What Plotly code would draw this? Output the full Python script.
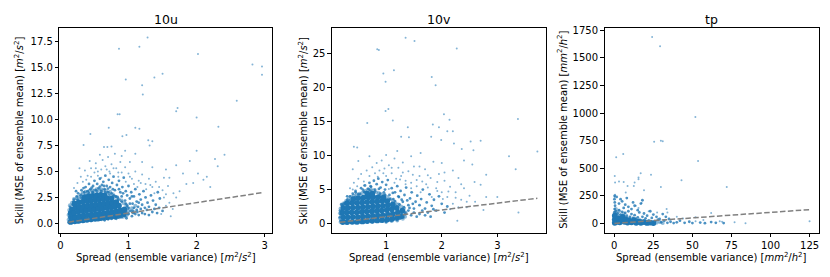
import plotly.graph_objects as go

# ---------------- data ----------------
# each panel: dense core, soft fringe of the core, mid-density halo, sparse points  (spread, skill)
u_core = [(0.15,0.15),(0.16,0.55),(0.15,0.95),(0.17,1.35),
          (0.21,0.2),(0.22,0.62),(0.2,1.05),(0.22,1.5),(0.21,1.9),
          (0.27,0.25),(0.28,0.7),(0.26,1.15),(0.28,1.6),(0.27,2.05),
          (0.33,0.3),(0.34,0.75),(0.32,1.2),(0.34,1.65),(0.33,2.1),(0.35,2.5),
          (0.39,0.35),(0.4,0.8),(0.38,1.25),(0.4,1.7),(0.39,2.15),(0.41,2.6),
          (0.45,0.4),(0.46,0.85),(0.44,1.3),(0.46,1.75),(0.45,2.2),(0.47,2.65),
          (0.51,0.45),(0.52,0.9),(0.5,1.35),(0.52,1.8),(0.51,2.25),(0.53,2.7),
          (0.57,0.5),(0.58,0.95),(0.56,1.4),(0.58,1.85),(0.57,2.3),(0.59,2.75),
          (0.63,0.55),(0.64,1.0),(0.62,1.45),(0.64,1.9),(0.63,2.35),(0.65,2.7),
          (0.69,0.6),(0.7,1.05),(0.68,1.5),(0.7,1.95),(0.69,2.4),
          (0.75,0.65),(0.76,1.1),(0.74,1.55),(0.76,2.0),(0.75,2.4),
          (0.81,0.7),(0.82,1.15),(0.8,1.6),(0.82,2.05),
          (0.87,0.8),(0.88,1.25),(0.86,1.7),
          (0.93,0.9),(0.94,1.35)]
u_fringe = [(0.14,1.75),(0.17,2.0),(0.2,2.35),(0.24,2.45),(0.27,2.55),(0.3,2.75),(0.33,2.95),
            (0.37,3.05),(0.4,3.0),(0.43,3.15),(0.47,3.2),(0.5,3.15),(0.53,3.3),(0.57,3.25),
            (0.6,3.3),(0.63,3.2),(0.67,3.15),(0.7,2.95),(0.73,3.05),(0.77,2.8),(0.8,2.6),
            (0.83,2.55),(0.86,2.3),(0.9,2.2),(0.93,1.95),(0.97,1.75),(0.99,1.45),(1.0,1.2),
            (0.99,0.95),(0.97,0.75),(1.05,1.45),(1.08,1.1),(1.1,1.7),(0.92,0.65),(0.87,0.6),
            (0.12,0.35),(0.12,0.8),(0.13,1.3)]
u_mid = [(0.18,1.8),(0.2,2.3),(0.24,2.6),(0.26,2.9),(0.3,2.7),(0.31,3.2),(0.35,3.0),(0.37,3.5),
         (0.4,3.1),(0.42,3.8),(0.44,3.3),(0.47,3.0),(0.48,3.6),(0.5,4.1),(0.52,3.2),(0.54,3.8),
         (0.56,3.4),(0.58,4.3),(0.6,3.1),(0.61,3.7),(0.63,4.0),(0.65,3.3),(0.66,4.6),(0.68,3.6),
         (0.7,3.0),(0.71,4.2),(0.73,3.5),(0.75,2.9),(0.76,3.9),(0.78,4.5),(0.8,3.2),(0.81,2.6),
         (0.83,3.7),(0.85,2.3),(0.86,4.1),(0.88,3.0),(0.9,2.6),(0.91,3.5),(0.93,4.4),(0.95,2.2),
         (0.96,3.1),(0.98,2.7),(1.0,3.6),(1.02,2.4),(1.04,3.0),(1.06,1.9),(1.08,2.6),(1.1,3.3),
         (1.12,2.1),(1.14,1.6),(1.16,2.8),(1.18,2.3),(1.2,1.8),(1.22,3.1),(1.25,2.5),(1.28,2.0),
         (1.3,1.6),(1.33,2.7),(1.36,2.2),(1.4,1.8),(1.43,3.0),(1.46,2.4),
         (0.9,0.6),(0.95,0.7),(0.98,1.7),(1.0,0.9),(1.03,1.2),(1.05,0.7),(1.08,1.5),(1.1,0.9),
         (1.13,1.1),(1.15,0.8),(1.18,1.4),(1.2,1.0),(1.24,0.9),(1.27,1.3),(1.3,0.8),(1.35,1.1),
         (1.38,1.4),(1.42,1.0),(1.45,1.5),(1.5,1.2),(0.7,0.4),(0.75,0.45),(0.8,0.5),(0.85,0.55),
         (0.6,0.35),(0.55,0.3),(0.45,0.25),(0.35,0.2),(0.25,0.1),(0.12,0.1),(0.13,0.6),(0.13,1.1),
         (0.3,2.45),(0.36,2.75),(0.42,2.9),(0.48,2.95),(0.54,3.05),(0.6,2.95),(0.66,3.0),(0.72,2.75),
         (0.78,2.7),(0.84,2.5),(0.9,2.1),(0.96,1.9),(1.0,1.5),(1.02,1.9),(1.06,1.2),(0.96,1.1),
         (0.25,2.3),(0.19,2.1),(0.14,1.6),(0.23,3.1),(0.34,3.4),(0.46,3.45),(0.58,3.55),(0.64,3.6),
         (0.7,3.35),(0.77,3.3),(0.86,3.3),(0.92,2.9),(1.05,2.6),(1.15,2.0),(1.24,1.5),(1.12,1.3),
         (0.97,0.5),(1.07,1.0),(0.82,0.45),(0.65,0.3)]
u_sparse = [(0.2,3.4),(0.25,3.9),(0.3,4.5),(0.33,4.0),(0.36,5.1),(0.4,4.6),(0.45,5.3),(0.5,4.9),
            (0.52,5.8),(0.55,4.6),(0.6,5.2),(0.62,6.1),(0.66,5.5),(0.7,6.4),(0.72,5.0),(0.75,5.7),
            (0.8,6.7),(0.82,5.3),(0.85,4.9),(0.88,5.9),(0.9,6.5),(0.95,5.4),(1.0,4.8),(1.02,5.9),
            (1.05,4.3),(1.1,5.0),(1.15,4.1),(1.2,4.7),(1.25,3.8),(1.3,4.3),(1.35,3.5),(1.4,4.0),
            (1.5,3.2),(1.55,2.8),(1.6,2.0),(1.48,0.9),(1.55,1.7),(1.35,5.4),(1.2,5.9),(1.1,6.7),
            (0.95,7.0),(0.75,7.4),(0.58,6.6),(0.43,6.0),(0.28,5.3),
            (1.55,5.2),(1.6,4.4),(1.7,5.6),(1.8,4.8),(1.85,3.8),(1.75,3.1),(1.9,6.0),(2.1,4.2),
            (2.2,3.5),(1.65,1.4),(1.7,2.5),(1.62,0.7),
            (0.55,5.0),(0.6,4.4),(0.68,5.2),(0.73,4.8),(0.78,5.3),(0.85,4.5),(0.9,4.9),(0.96,4.0),
            (1.02,4.5),(1.08,3.8),(1.13,3.5),(1.18,3.9),(1.26,3.3),(1.32,3.7),(1.38,2.9),(1.45,3.5),
            (1.52,2.5),(1.58,3.6),(1.66,2.9),(1.52,4.4),(0.45,4.5),(0.38,4.2),(0.52,5.3),
            (1.28,17.9),(1.16,17.0),(0.86,16.8),(2.02,16.3),(2.82,15.3),(2.96,15.1),(2.96,14.3),
            (0.96,13.85),(1.5,14.4),(1.38,14.05),(1.2,13.3),(1.21,12.4),(1.72,11.1),(1.7,10.8),
            (2.59,11.8),(2.0,10.2),(0.84,10.5),(0.87,10.5),(0.71,9.2),(1.1,9.2),(1.16,9.1),
            (2.32,9.3),(0.91,8.4),(0.97,8.5),(0.44,8.6),(0.34,7.55),(0.64,7.35),(0.69,7.35),
            (1.29,8.0),(1.35,7.9),(1.31,7.5),(2.0,7.0),(2.41,6.6),(2.27,6.2),(2.31,5.5),
            (2.02,4.8),(1.95,3.9),(2.15,4.5)]

# 10v
v_core = [(0.22,0.2),(0.23,0.9),(0.21,1.6),(0.23,2.3),
          (0.3,0.2),(0.31,0.9),(0.29,1.6),(0.31,2.3),(0.3,3.0),
          (0.39,0.25),(0.4,0.95),(0.38,1.65),(0.4,2.35),(0.39,3.05),(0.41,3.6),
          (0.48,0.25),(0.49,0.95),(0.47,1.65),(0.49,2.35),(0.48,3.05),(0.5,3.75),
          (0.57,0.3),(0.58,1.0),(0.56,1.7),(0.58,2.4),(0.57,3.1),(0.59,3.8),
          (0.66,0.35),(0.67,1.05),(0.65,1.75),(0.67,2.45),(0.66,3.15),(0.68,3.85),(0.66,4.4),
          (0.75,0.4),(0.76,1.1),(0.74,1.8),(0.76,2.5),(0.75,3.2),(0.77,3.9),(0.75,4.4),
          (0.84,0.45),(0.85,1.15),(0.83,1.85),(0.85,2.55),(0.84,3.25),(0.86,3.9),
          (0.93,0.5),(0.94,1.2),(0.92,1.9),(0.94,2.6),(0.93,3.3),(0.95,3.8),
          (1.02,0.6),(1.03,1.3),(1.01,2.0),(1.03,2.7),(1.02,3.3),
          (1.11,0.7),(1.12,1.4),(1.1,2.1),(1.12,2.8),
          (1.2,0.9),(1.21,1.6),(1.19,2.3),
          (1.28,1.1),(1.29,1.9)]
v_fringe = [(0.2,2.8),(0.24,3.0),(0.28,3.3),(0.33,3.6),(0.37,3.9),(0.42,4.1),(0.47,4.3),(0.52,4.4),
            (0.57,4.5),(0.62,4.8),(0.67,5.0),(0.72,5.0),(0.77,4.9),(0.82,4.6),(0.87,4.5),(0.92,4.3),
            (0.97,4.2),(1.02,3.9),(1.07,3.6),(1.12,3.4),(1.17,3.0),(1.22,2.8),(1.27,2.5),(1.32,2.2),
            (1.35,1.6),(1.34,1.0),(1.3,0.7),(1.2,0.45),(1.1,0.35),(1.0,0.25),(0.18,0.2),(0.17,0.8),
            (0.17,1.5),(0.18,2.2)]
v_mid = [(0.25,3.0),(0.3,3.5),(0.35,4.0),(0.4,4.4),(0.45,4.8),(0.5,4.3),(0.55,5.2),(0.6,4.7),
         (0.62,5.6),(0.68,5.1),(0.7,6.0),(0.73,5.4),(0.78,6.3),(0.8,5.0),(0.83,5.8),(0.86,6.6),
         (0.9,5.3),(0.93,6.1),(0.96,4.6),(1.0,5.7),(1.03,6.4),(1.06,4.2),(1.1,5.2),(1.13,3.6),
         (1.16,4.6),(1.2,5.5),(1.23,3.9),(1.26,4.8),(1.3,3.2),(1.33,4.2),(1.36,5.3),(1.4,2.7),
         (1.43,3.7),(1.46,4.6),(1.5,2.2),(1.53,3.2),(1.56,4.1),(1.6,2.7),(1.63,3.6),(1.66,5.0),
         (1.7,2.2),(1.73,3.1),(1.78,4.3),(1.82,2.6),(1.86,3.5),(1.9,1.9),(1.95,4.0),(2.0,2.9),
         (1.35,1.4),(1.4,1.9),(1.45,1.2),(1.5,1.6),(1.55,1.0),(1.6,1.4),(1.65,1.9),(1.7,1.2),
         (1.3,0.9),(1.25,0.7),(1.2,0.5),(1.1,0.4),(1.75,1.6),(1.8,1.0),(1.85,2.1),(2.05,1.6),
         (2.1,2.5),(0.2,2.8),(0.18,1.3),(0.18,0.4),(0.28,0.05),(0.45,0.05),(0.6,0.1),(0.75,0.2),
         (0.9,0.3),(1.0,0.2),
         (0.26,2.9),(0.34,3.4),(0.44,3.9),(0.53,4.3),(0.62,4.6),(0.71,4.85),(0.8,4.7),(0.89,4.4),
         (0.98,4.2),(1.07,3.6),(1.16,3.3),(1.24,2.8),(1.32,2.4),(1.34,1.6),(1.26,0.9),(1.18,0.6),
         (1.08,0.45),(0.22,2.7),(0.17,1.9),(0.17,0.9),(0.3,4.0),(0.45,4.6),(0.58,5.0),(0.72,5.5),
         (0.87,5.1),(0.98,5.0),(1.12,4.5),(1.22,4.0),(1.38,3.4),(1.42,2.3),(1.48,2.9),(1.28,3.5)]
v_sparse = [(0.35,5.2),(0.42,6.0),(0.5,6.6),(0.55,7.3),(0.6,6.2),(0.65,7.8),(0.7,7.0),(0.75,8.3),
            (0.8,7.4),(0.83,8.9),(0.88,7.8),(0.92,9.3),(0.97,8.1),(1.0,7.0),(1.05,8.6),(1.1,7.4),
            (1.15,9.6),(1.18,6.6),(1.22,8.2),(1.27,7.0),(1.3,9.0),(1.35,6.3),(1.4,7.7),(1.45,6.0),
            (1.5,8.4),(1.55,5.5),(1.6,7.0),(1.65,6.2),(1.7,8.0),(1.75,5.3),(1.8,6.7),(1.85,9.1),
            (1.9,5.2),(1.95,7.3),(2.0,4.6),(2.05,6.3),(2.1,3.9),(2.15,5.4),(2.2,2.9),(2.25,4.6),
            (2.3,6.7),(2.35,3.5),(2.4,5.2),(2.45,2.4),(2.5,4.1),(2.55,8.7),(2.6,3.2),(2.7,5.7),
            (2.75,2.0),(1.0,10.1),(1.2,10.7),(1.45,9.9),(1.62,10.4),(0.5,9.2),(0.7,9.9),(0.4,8.0),
            (2.2,7.8),(2.4,9.3),(2.0,8.9),
            (1.05,5.1),(1.15,6.0),(1.25,6.5),(1.35,5.8),(1.45,5.2),(1.55,6.4),(1.62,4.6),(1.72,5.8),
            (1.82,3.9),(1.92,4.8),(2.02,3.6),(2.12,4.7),(2.25,3.8),(2.35,5.8),(2.45,3.2),(1.3,7.5),
            (1.48,7.2),(1.6,8.4),(1.75,7.1),(1.92,6.1),(2.05,7.5),(2.15,2.1),(2.3,2.4),(1.1,8.2),
            (0.95,7.4),(0.85,6.9),(0.6,5.6),(0.48,5.5),(0.4,5.0),
            (1.35,27.4),(1.51,26.9),(0.84,25.7),(0.87,25.6),(2.27,25.8),(0.95,22.1),(1.14,22.6),
            (0.99,20.9),(1.82,21.6),(1.89,20.4),(1.04,16.9),(0.99,16.6),(2.04,16.1),(1.12,15.2),
            (0.66,14.8),(3.37,15.4),(1.84,14.6),(1.95,14.2),(2.14,15.3),(2.1,13.6),(2.2,13.6),
            (1.39,14.2),(1.41,12.7),(1.27,12.8),(1.81,12.8),(1.99,12.3),(2.22,11.8),(2.52,12.1),
            (2.7,12.2),(0.42,11.3),(0.48,11.2),(2.36,11.0),(2.57,10.8),(3.21,9.9),(3.72,10.6),
            (3.33,8.0),(2.8,7.2),(3.0,3.9),(2.8,3.9),(3.38,1.6),(2.28,0.4),(2.59,6.1)]

# tp
tp_core = [(0.3,5),(0.3,35),(0.3,70),(1.5,15),(2.5,45),(3.5,10),(4.5,30),(5.5,60),(6.5,15),
           (7.5,35),(8.5,8),(9.5,25),(11,10),(12.5,30),(14,5),(15.5,15),(17,5),(19,12),(21,4),
           (23,8),(25,3)]
tp_fringe = [(0.3,100),(2,80),(4,70),(6,90),(8,50),(10,45),(13,40),(16,30),(19,25),(22,20),
             (27,6),(29,12),(31,4),(1,130),(3,110)]
tp_mid = [(0.2,100),(0.2,130),(0.5,160),(0.3,190),(1,110),(2,90),(3,120),(4,80),(5,105),(6,140),
          (7,95),(8,70),(9,110),(10,60),(11,85),(12,50),(13,75),(14,40),(15,55),(16,100),(17,30),
          (18,60),(20,45),(22,25),(24,50),(26,20),(28,35),(30,10),(32,25),(34,5),(36,15),(38,3),
          (40,10),(3,180),(5,200),(7,170),(9,150),(11,130),(13,160),(15,120),(17,180),(19,90),
          (21,70),(23,110),(25,80),(27,60),(29,40),(31,85),(33,60),(35,40),(42,25),(45,5),(48,15),
          (50,3),(55,8),(58,2),(62,12),(65,5),(70,3),(0.1,220),(0.2,250),(1.5,240),(4,220),(8,230),
          (12,190),(18,210)]
tp_sparse = [(24.2,1690),(29.3,1605),(51.9,965),(25.5,740),(29.8,748),(31,745),(53.6,565),
             (1.2,600),(5.7,630),(0.3,430),(16.9,455),(23.5,440),(43,390),(15.5,415),(0.5,370),
             (3,380),(6,375),(8.5,340),(13,370),(15.5,400),(12.5,340),(19,300),(29.8,330),
             (72,330),(0.5,260),(0.2,240),(7.3,280),(13.8,160),(17.5,185),(15.5,140),(22,110),
             (27.4,100),(33.5,130),(34,100),(62,95),(52,55),(67.5,20),(69,15),(77,10),(84,2),
             (125,20),(52,20),(44,45),(57,30),(40,60)]

titles = ["10u", "10v", "tp"]
x_titles = ["Spread (ensemble variance) [<i>m</i><sup>2</sup>/<i>s</i><sup>2</sup>]",
            "Spread (ensemble variance) [<i>m</i><sup>2</sup>/<i>s</i><sup>2</sup>]",
            "Spread (ensemble variance) [<i>mm</i><sup>2</sup>/<i>h</i><sup>2</sup>]"]
y_titles = ["Skill (MSE of ensemble mean) [<i>m</i><sup>2</sup>/<i>s</i><sup>2</sup>]",
            "Skill (MSE of ensemble mean) [<i>m</i><sup>2</sup>/<i>s</i><sup>2</sup>]",
            "Skill (MSE of ensemble mean) [<i>mm</i><sup>2</sup>/<i>h</i><sup>2</sup>]"]

# ---------------- figure ----------------
# The page body has an 8px default margin, so the figure is drawn 8px smaller
# and every target pixel position is shifted by that offset.
OFF = 8
W, H = 830 - OFF, 277 - OFF
BLUE = "#1f77b4"
FONT = "DejaVu Sans"


def px_x(p):
    return (p - OFF) / W


def px_y(p):
    return 1 - (p - OFF) / H


panels = [(u_core, u_fringe, u_mid, u_sparse),
          (v_core, v_fringe, v_mid, v_sparse),
          (tp_core, tp_fringe, tp_mid, tp_sparse)]
x_dom = [(57.5, 270.7), (330.7, 545.3), (604.0, 819.3)]
y_dom = (px_y(232.3), px_y(24.7))
x_rng = [(-0.015, 3.108), (0.025, 3.875), (-6.25, 131.25)]
y_rng = [(-0.9, 18.85), (-1.375, 28.9), (-85, 1775)]
x_dt = [1, 1, 25]
y_dt = [2.5, 5, 250]
y_fmt = [".1f", "d", "d"]
ytitle_px = [17, 302, 562]

fig = go.Figure()
layout = dict(width=W, height=H, margin=dict(l=0, r=0, t=0, b=0),
              paper_bgcolor="white", plot_bgcolor="white", showlegend=False,
              font=dict(family=FONT, size=10, color="black"))
annotations = []

for i, (core, fringe, mid, sparse) in enumerate(panels):
    ax = "" if i == 0 else str(i + 1)
    xa, ya = "x" + ax, "y" + ax
    for pts, size, op in ((fringe, 4.0, 0.5), (core, 5.8, 1.0), (mid, 2.8, 0.8), (sparse, 2.0, 0.55)):
        fig.add_trace(go.Scatter(x=[p[0] for p in pts], y=[p[1] for p in pts], mode="markers",
                                 marker=dict(color=BLUE, size=size, opacity=op, line=dict(width=0)),
                                 xaxis=xa, yaxis=ya, hoverinfo="skip"))
    allx = [p[0] for p in core + fringe + mid + sparse]
    lo, hi = min(allx), max(allx)
    fig.add_trace(go.Scatter(x=[lo, hi], y=[lo, hi], mode="lines",
                             line=dict(color="grey", width=1.5, dash="5.5px,2.4px"),
                             xaxis=xa, yaxis=ya, hoverinfo="skip"))
    common = dict(showgrid=False, zeroline=False, showline=True, mirror=True,
                  linecolor="black", linewidth=1, ticks="outside", ticklen=3.5,
                  tickwidth=1, tickcolor="black", tickfont=dict(family=FONT, size=10, color="black"))
    layout["xaxis" + ax] = dict(domain=[px_x(x_dom[i][0]), px_x(x_dom[i][1])], range=list(x_rng[i]),
                                anchor=ya, tick0=0, dtick=x_dt[i], **common)
    layout["yaxis" + ax] = dict(domain=list(y_dom), range=list(y_rng[i]), anchor=xa,
                                tick0=0, dtick=y_dt[i], tickformat=y_fmt[i], **common)
    cx = px_x((x_dom[i][0] + x_dom[i][1]) / 2)
    annotations.append(dict(text=titles[i], x=cx, y=px_y(17), xref="paper", yref="paper",
                            xanchor="center", yanchor="middle", showarrow=False,
                            font=dict(family=FONT, size=12.5, color="black")))
    annotations.append(dict(text=x_titles[i], x=cx, y=px_y(257), xref="paper", yref="paper",
                            xanchor="center", yanchor="middle", showarrow=False,
                            font=dict(family=FONT, size=10, color="black")))
    annotations.append(dict(text=y_titles[i], x=px_x(ytitle_px[i]), y=(y_dom[0] + y_dom[1]) / 2,
                            xref="paper", yref="paper", xanchor="center", yanchor="middle",
                            textangle=-90, showarrow=False,
                            font=dict(family=FONT, size=10, color="black")))

layout["annotations"] = annotations
fig.update_layout(**layout)
fig.write_html("out.html")
